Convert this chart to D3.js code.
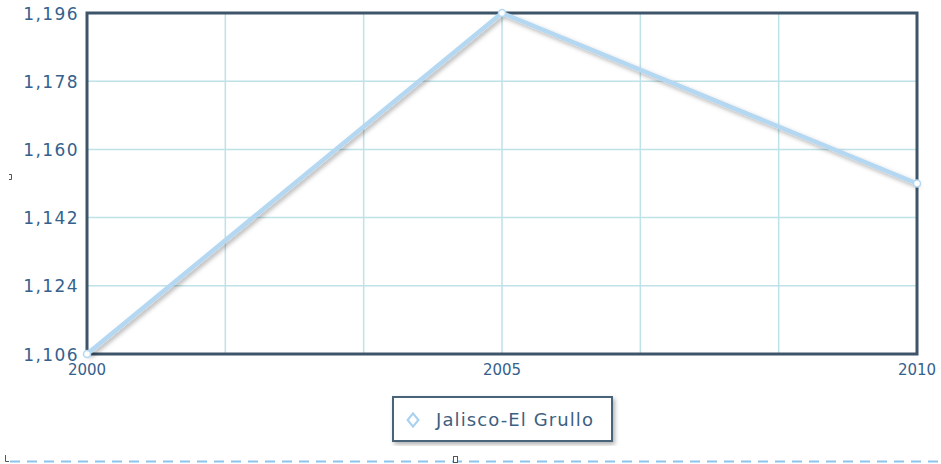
<!DOCTYPE html>
<html>
<head>
<meta charset="utf-8">
<script src="https://cdn.jsdelivr.net/npm/d3@7"></script>
<style>
  html, body { margin: 0; padding: 0; background: #fff; }
  svg { display: block; font-family: "DejaVu Sans", Verdana, sans-serif; }
</style>
</head>
<body>
<div id="chart"></div>
<script>
const years = [2000, 2005, 2010];
const values = [1106, 1196, 1151];
const yTicks = [1106, 1124, 1142, 1160, 1178, 1196];
const xTickLabels = [2000, 2005, 2010];
const xGridCount = 6;
const seriesName = "Jalisco-El Grullo";

const width = 941,
  height = 464,
  plot = { left: 87, right: 917, top: 13, bottom: 354 };

const svg = d3.select("#chart")
  .append("svg")
  .attr("width", width)
  .attr("height", height);

const defs = svg.append("defs");
const shadow = defs.append("filter")
  .attr("id", "shadow")
  .attr("x", "-10%").attr("y", "-10%")
  .attr("width", "120%").attr("height", "120%");
shadow.append("feDropShadow")
  .attr("dx", 2).attr("dy", 2.5)
  .attr("stdDeviation", 2)
  .attr("flood-color", "#000")
  .attr("flood-opacity", 0.3);

const x = d3.scaleLinear()
  .domain([years[0], years[years.length - 1]])
  .range([plot.left, plot.right]);

const y = d3.scaleLinear()
  .domain([yTicks[0], yTicks[yTicks.length - 1]])
  .range([plot.bottom, plot.top]);

// grid, vertical lines split the year span in equal parts
const xGrid = d3.range(xGridCount + 1)
  .map(i => years[0] + i * (years[years.length - 1] - years[0]) / xGridCount);

const grid = svg.append("g").attr("class", "grid");
grid.selectAll("line.h")
  .data(yTicks)
  .enter().append("line")
  .attr("class", "h")
  .attr("x1", plot.left).attr("x2", plot.right)
  .attr("y1", d => y(d)).attr("y2", d => y(d))
  .attr("stroke", "#bfe1e8")
  .attr("stroke-width", 1.5);

grid.selectAll("line.v")
  .data(xGrid)
  .enter().append("line")
  .attr("class", "v")
  .attr("x1", d => x(d)).attr("x2", d => x(d))
  .attr("y1", plot.top).attr("y2", plot.bottom)
  .attr("stroke", "#bfe1e8")
  .attr("stroke-width", 1.5);

// frame
svg.append("rect")
  .attr("x", plot.left).attr("y", plot.top)
  .attr("width", plot.right - plot.left)
  .attr("height", plot.bottom - plot.top)
  .attr("fill", "none")
  .attr("stroke", "#3e5468")
  .attr("stroke-width", 3);

// y labels
svg.append("g")
  .selectAll("text")
  .data(yTicks)
  .enter().append("text")
  .attr("x", plot.left - 8)
  .attr("y", d => y(d) + 1)
  .attr("dy", "0.33em")
  .attr("text-anchor", "end")
  .attr("font-size", 17)
  .attr("letter-spacing", 1.4)
  .attr("fill", "#35618c")
  .text(d => d3.format(",")(d));

// x labels
svg.append("g")
  .selectAll("text")
  .data(xTickLabels)
  .enter().append("text")
  .attr("x", d => x(d))
  .attr("y", plot.bottom + 21)
  .attr("text-anchor", "middle")
  .attr("font-size", 15)
  .attr("fill", "#35618c")
  .text(d => d);

// series line
const pts = years.map((yr, i) => ({ year: yr, value: values[i] }));
const line = d3.line().x(d => x(d.year)).y(d => y(d.value));

svg.append("path")
  .datum(pts)
  .attr("d", line)
  .attr("fill", "none")
  .attr("stroke", "#b4d7f2")
  .attr("stroke-width", 4.5)
  .attr("stroke-linejoin", "round")
  .attr("filter", "url(#shadow)");

svg.append("g")
  .selectAll("circle")
  .data(pts)
  .enter().append("circle")
  .attr("cx", d => x(d.year))
  .attr("cy", d => y(d.value))
  .attr("r", 3.5)
  .attr("fill", "#fff")
  .attr("stroke", "#b4d7f2")
  .attr("stroke-width", 1.5);

// legend
const legend = svg.append("g").attr("transform", "translate(393,397)");
legend.append("rect")
  .attr("width", 219).attr("height", 44)
  .attr("fill", "#fff")
  .attr("stroke", "#4a6378")
  .attr("stroke-width", 2)
  .attr("filter", "url(#shadow)");
legend.append("path")
  .attr("d", d3.symbol(d3.symbolDiamond, 70)())
  .attr("transform", "translate(20,23) scale(1.2,0.85)")
  .attr("fill", "#fff")
  .attr("stroke", "#a9d1f0")
  .attr("stroke-width", 2);
legend.append("text")
  .attr("x", 43).attr("y", 23)
  .attr("dy", "0.35em")
  .attr("font-size", 18)
  .attr("letter-spacing", 1.1)
  .attr("fill", "#3d5f80")
  .text(seriesName);

// page leftovers along the edges
svg.append("line")
  .attr("x1", 10).attr("x2", width)
  .attr("y1", 461.5).attr("y2", 461.5)
  .attr("stroke", "#8fc3ec")
  .attr("stroke-width", 2)
  .attr("stroke-dasharray", "10,7");
svg.append("path")
  .attr("d", "M5.5,455 V461.5 H9")
  .attr("fill", "none").attr("stroke", "#555").attr("stroke-width", 1);
svg.append("rect")
  .attr("x", 453.5).attr("y", 456.5).attr("width", 4).attr("height", 6)
  .attr("fill", "#fff").attr("stroke", "#555").attr("stroke-width", 1);
svg.append("path")
  .attr("d", "M9,174.5 H11.5 V179.5 H9")
  .attr("fill", "none").attr("stroke", "#555").attr("stroke-width", 1);
</script>
</body>
</html>
